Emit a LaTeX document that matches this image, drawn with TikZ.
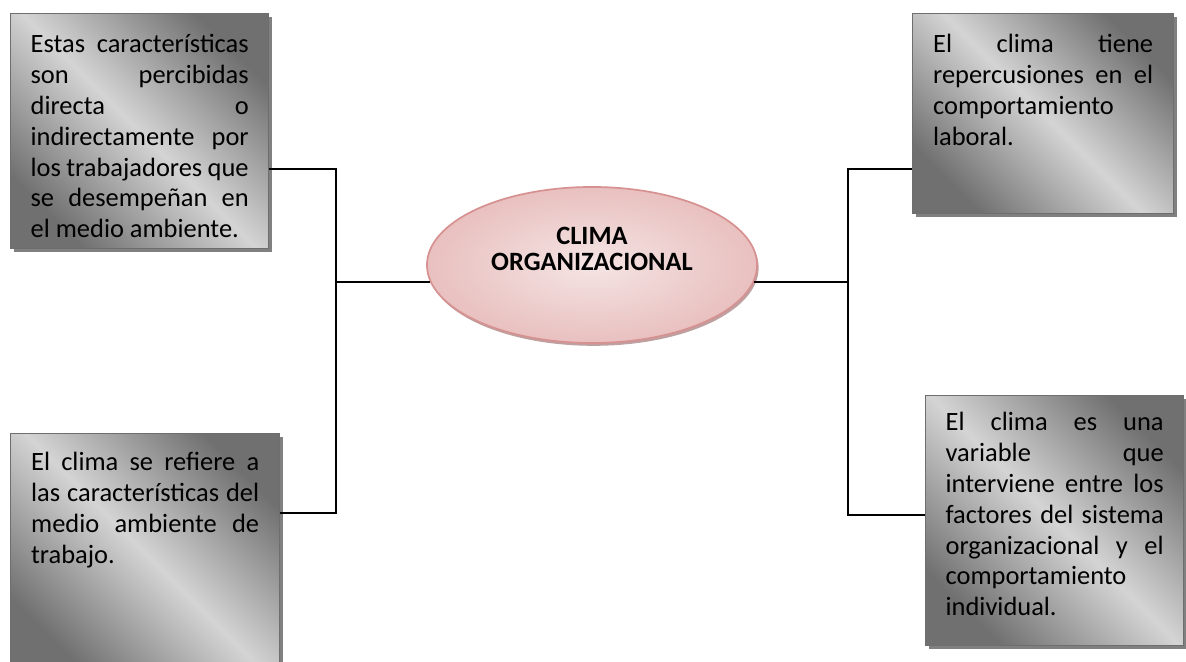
\documentclass[tikz,border=0pt]{standalone}
\usepackage{fontspec}
\setmainfont{Carlito}
\usepackage{tikz}
\usetikzlibrary{shapes.geometric, shadows, positioning}
\usepackage{xcolor}
\definecolor{grisosc}{RGB}{112,112,112}
\definecolor{grisclaro}{RGB}{212,212,212}
\definecolor{bordegris}{RGB}{110,110,110}
\definecolor{sombragris}{RGB}{128,128,128}
\definecolor{rosaclaro}{RGB}{245,228,228}
\definecolor{rosaosc}{RGB}{232,192,191}
\definecolor{borderosa}{RGB}{214,145,144}
\definecolor{sombrarosa}{RGB}{190,160,160}

\tikzset{
	caja/.style={draw=bordegris, line width=0.9pt, top color=grisosc, bottom color=grisosc, middle color=grisclaro, shading angle=-45, anchor=north west, align=justify, text height=13pt, font=\fontsize{18.8pt}{22pt}\selectfont, drop shadow={shadow xshift=0.09cm, shadow yshift=-0.09cm, fill=sombragris, opacity=1}},
	enlace/.style={line width=1pt, black}
}

\begin{document}
\begin{tikzpicture}[x=0.025cm, y=-0.025cm]
				\useasboundingbox (0,0) rectangle (1186,662);
				\node[caja, text width=5.45cm, inner xsep=0.5cm, inner ysep=0.51cm, text depth=4.4cm] (caja1) at (10,13) {Estas características\linebreak son percibidas\linebreak directa o\linebreak indirectamente por\linebreak los trabajadores que\linebreak se desempeñan en\linebreak el medio ambiente.};
				\node[caja, text width=5.7cm, inner xsep=0.5125cm, inner ysep=0.46cm, text depth=4.62cm] (caja2) at (10,433) {El clima se refiere a\linebreak las características del\linebreak medio ambiente de\linebreak trabajo.};
				\node[caja, text width=5.5cm, inner xsep=0.5125cm, inner ysep=0.51cm, text depth=3.52cm] (caja3) at (912,13) {El clima tiene\linebreak repercusiones en el\linebreak comportamiento\linebreak laboral.};
				\node[caja, text width=5.45cm, inner xsep=0.5cm, inner ysep=0.41cm, text depth=4.97cm] (caja4) at (925,395) {El clima es una\linebreak variable que\linebreak interviene entre los\linebreak factores del sistema\linebreak organizacional y el\linebreak comportamiento\linebreak individual.};
				\node[ellipse, minimum width=8.25cm, minimum height=3.9cm, inner sep=0pt, draw=borderosa, line width=1.2pt, inner color=rosaclaro, outer color=rosaosc, drop shadow={shadow xshift=0.04cm, shadow yshift=-0.07cm, fill=sombrarosa, opacity=1}] (clima) at (592,265) {};
				\node[font=\fontsize{18.8pt}{19pt}\selectfont\bfseries, align=center] (climatit) at ([yshift=0.4cm]clima.center) {CLIMA\\ORGANIZACIONAL};
				\coordinate (izqA) at (336,169);
				\coordinate (izqB) at (336,513);
				\coordinate (derA) at (848,169);
				\coordinate (derB) at (848,515);
				\draw[enlace] (caja1.east |- izqA) -- (izqA) -- (izqB) -- (caja2.east |- izqB);
				\draw[enlace] (clima.186) -- (clima.186 -| izqA);
				\draw[enlace] (caja3.west |- derA) -- (derA) -- (derB) -- (caja4.west |- derB);
				\draw[enlace] (clima.354) -- (clima.354 -| derA);
			\end{tikzpicture}
\end{document}
